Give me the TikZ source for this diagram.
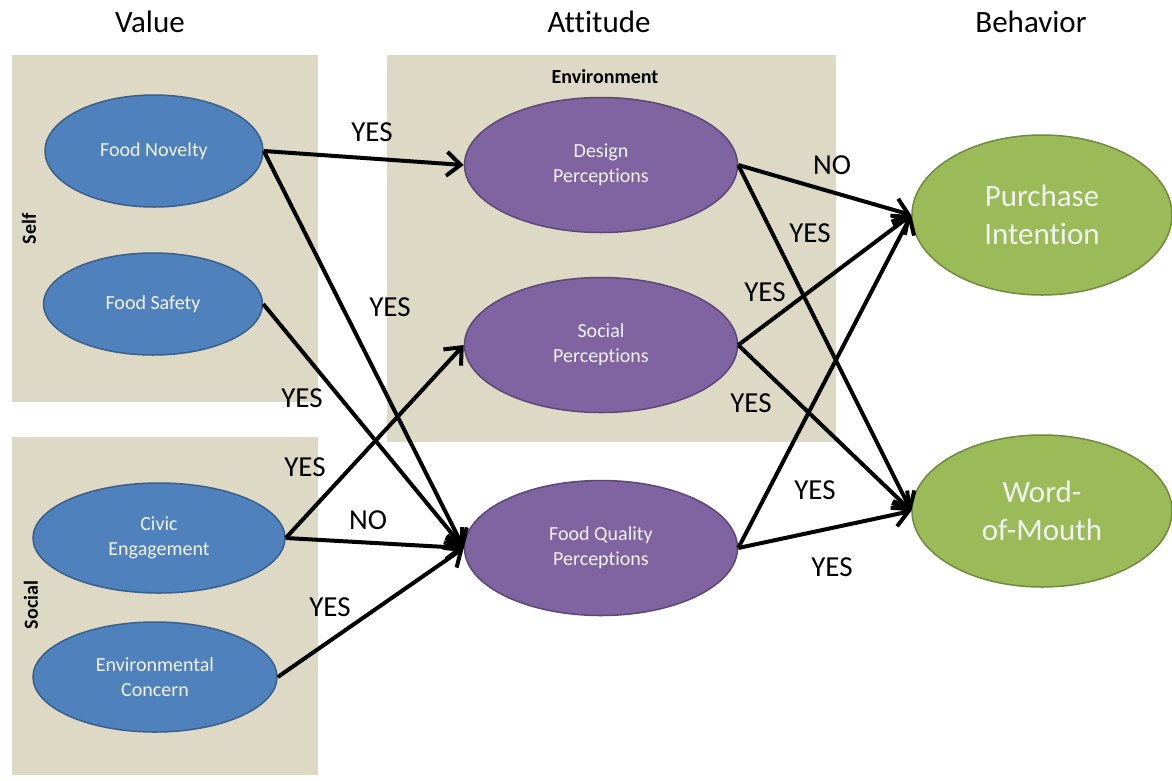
\documentclass[tikz,border=0pt]{standalone}
\usepackage{fontspec}
\setmainfont[Ligatures=NoCommon]{Carlito}
\usepackage{tikz}
\usetikzlibrary{shapes.geometric,arrows.meta}

\definecolor{panelbg}{HTML}{DDD9C4}
\definecolor{valfill}{HTML}{4F81BD}
\definecolor{valline}{HTML}{3A5F8B}
\definecolor{attfill}{HTML}{8064A2}
\definecolor{attline}{HTML}{5C4776}
\definecolor{behfill}{HTML}{9BBB59}
\definecolor{behline}{HTML}{71893F}

\begin{document}
\begin{tikzpicture}[x=1pt,y=-1pt,
  panel/.style={fill=panelbg,draw=none},
  oval/.style={ellipse,inner sep=0pt,align=center,text=white!95!black,line width=1.5pt},
  val/.style={oval,fill=valfill,draw=valline,font=\fontsize{20}{25}\selectfont},
  att/.style={oval,fill=attfill,draw=attline,font=\fontsize{20}{25}\selectfont},
  beh/.style={oval,fill=behfill,draw=behline,font=\fontsize{31}{38}\selectfont},
  head/.style={font=\fontsize{31}{36}\selectfont,inner sep=0pt},
  grp/.style={font=\bfseries\fontsize{20}{24}\selectfont,inner sep=0pt},
  lbl/.style={font=\fontsize{29}{32}\selectfont,inner sep=0pt},
  arr/.style={line width=4pt,-{Straight Barb[length=14pt,width=24pt,line width=4pt]}}]
\useasboundingbox (0,0) rectangle (1172,780);

% Panels
\fill[panel] (12,55) rectangle (318,402);
\fill[panel] (12,437) rectangle (318,775);
\fill[panel] (387,55) rectangle (836,442);

% Headers and group labels
\node[head] (hval) at (150,22) {Value};
\node[head] (hatt) at (599,22) {Attitude};
\node[head] (hbeh) at (1031,22) {Behavior};
\node[grp,rotate=90] (gself) at (29,229) {Self};
\node[grp,rotate=90] (gsoc) at (31,605) {Social};
\node[grp] (genv) at (605,77) {Environment};

% Value
\node[val,minimum width=218pt,minimum height=112pt] (nov) at (154,151) {Food Novelty};
\node[val,minimum width=219pt,minimum height=102pt] (saf) at (153,304) {Food Safety};
\node[val,minimum width=252pt,minimum height=110pt] (civ) at (159,538) {Civic\\Engagement};
\node[val,minimum width=244pt,minimum height=110pt] (env) at (155,677) {Environmental\\Concern};

% Attitude
\node[att,minimum width=273pt,minimum height=135pt] (des) at (601,165) {Design\\Perceptions};
\node[att,minimum width=273pt,minimum height=135pt] (soc) at (601,345) {Social\\Perceptions};
\node[att,minimum width=273pt,minimum height=135pt] (fq) at (601,548) {Food Quality\\Perceptions};

% Behavior
\node[beh,minimum width=260pt,minimum height=160pt] (pi) at (1042,215) {Purchase\\Intention};
\node[beh,minimum width=260pt,minimum height=152pt] (wom) at (1042,511) {Word-\\of-Mouth};

% Value -> Attitude
\draw[arr] (nov.east) -- (des.west);
\draw[arr] (nov.east) -- (fq.west);
\draw[arr] (saf.east) -- (fq.west);
\draw[arr] (civ.east) -- (soc.west);
\draw[arr] (civ.east) -- (fq.west);
\draw[arr] (env.east) -- (fq.west);

% Attitude -> Behavior
\draw[arr] (des.east) -- (pi.west);
\draw[arr] (des.east) -- (wom.west);
\draw[arr] (soc.east) -- (pi.west);
\draw[arr] (soc.east) -- (wom.west);
\draw[arr] (fq.east) -- (pi.west);
\draw[arr] (fq.east) -- (wom.west);

% Path labels
\node[lbl] (l1) at (372,132) {YES};
\node[lbl] (l2) at (390,307) {YES};
\node[lbl] (l3) at (302,398) {YES};
\node[lbl] (l4) at (305,467) {YES};
\node[lbl] (l5) at (368,520) {NO};
\node[lbl] (l6) at (330,607) {YES};
\node[lbl] (l7) at (832,165) {NO};
\node[lbl] (l8) at (810,233) {YES};
\node[lbl] (l9) at (765,292) {YES};
\node[lbl] (l10) at (751,403) {YES};
\node[lbl] (l11) at (815,490) {YES};
\node[lbl] (l12) at (832,567) {YES};
\end{tikzpicture}
\end{document}
